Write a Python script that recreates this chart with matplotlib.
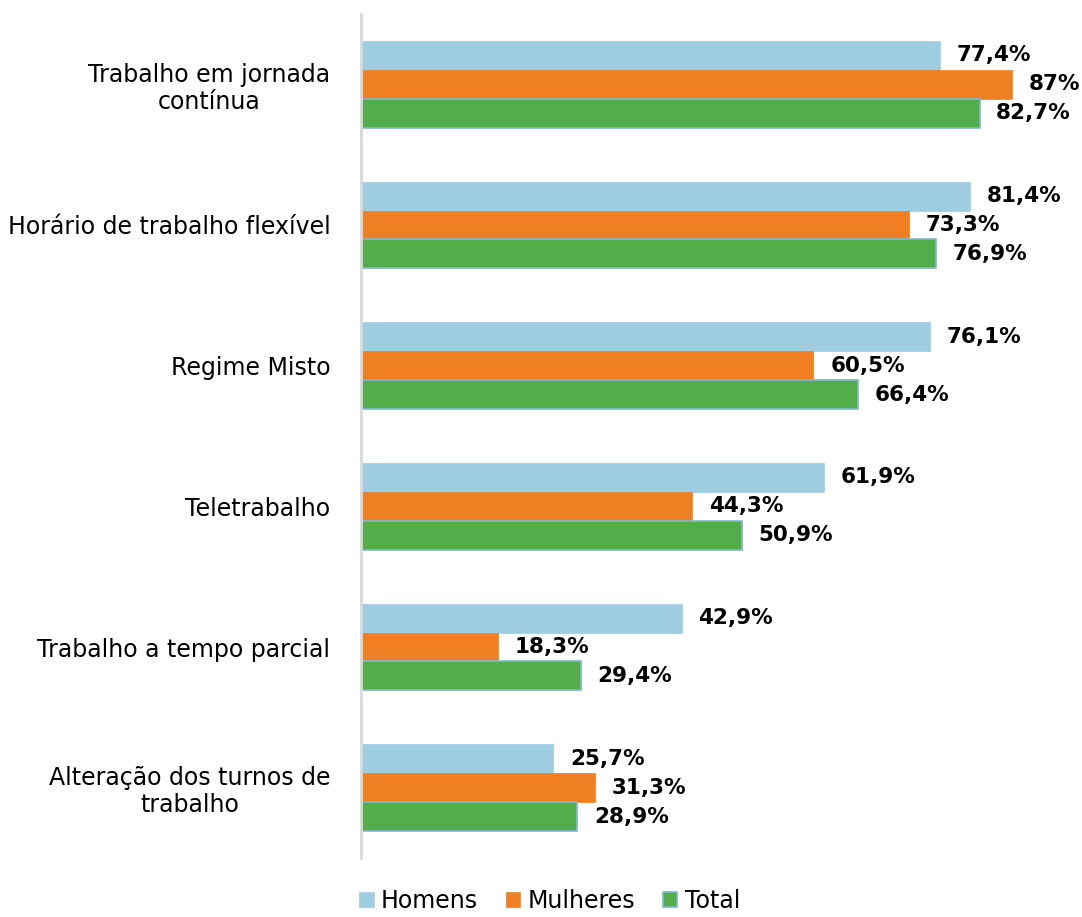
import numpy as np
import matplotlib
matplotlib.use("Agg")
import matplotlib.pyplot as plt

plt.rcParams['font.family'] = ['DejaVu Sans']

categories = ["Trabalho em jornada\ncontínua", "Horário de trabalho flexível", "Regime Misto",
              "Teletrabalho", "Trabalho a tempo parcial", "Alteração dos turnos de\ntrabalho"]
homens = [77.4, 81.4, 76.1, 61.9, 42.9, 25.7]
mulheres = [87.0, 73.3, 60.5, 44.3, 18.3, 31.3]
total = [82.7, 76.9, 66.4, 50.9, 29.4, 28.9]
series_names = ["Homens", "Mulheres", "Total"]
colors = ["#9ECDE2", "#EF7F22", "#53AE4A"]


def fmt(v):
    s = ("%.1f" % v).replace(".", ",")
    if s.endswith(",0"):
        s = s[:-2]
    return s + "%"


fig = plt.figure(figsize=(10.82, 9.17), dpi=100)
ax = fig.add_axes([361 / 1082, 59 / 917, 721 / 1082, 844 / 917])

y = np.arange(len(categories))
h = 0.206
for k, (vals, name, col) in enumerate(zip([homens, mulheres, total], series_names, colors)):
    edge = "#7FB8D0" if name == "Total" else col
    bars = ax.barh(y + (k - 1) * h, vals, height=h, color=col, edgecolor=edge,
                   linewidth=1.2 if name == "Total" else 0.5, label=name)
    for b, v in zip(bars, vals):
        ax.annotate(fmt(v), (v, b.get_y() + b.get_height() / 2), xytext=(12, 0),
                    textcoords="offset points", va="center", ha="left",
                    fontsize=15.5, fontweight="heavy", color="black")

ax.set_xlim(0, 96.4)
ax.set_ylim(len(categories) - 0.5, -0.5)
ax.set_yticks(y)
ax.set_yticklabels(categories, fontsize=17, multialignment="center", linespacing=1.15)
ax.tick_params(axis="y", length=0, pad=22)
ax.set_xticks([])
for s in ["top", "right", "bottom"]:
    ax.spines[s].set_visible(False)
ax.spines["left"].set_color("#D9D9D9")
ax.spines["left"].set_linewidth(2)

fig.legend(loc="lower center", bbox_to_anchor=(0.508, -0.019), ncol=3, frameon=False,
           fontsize=17, handlelength=0.6, handleheight=0.6, handletextpad=0.3,
           columnspacing=1.2)

fig.savefig("out.png", dpi=100)
